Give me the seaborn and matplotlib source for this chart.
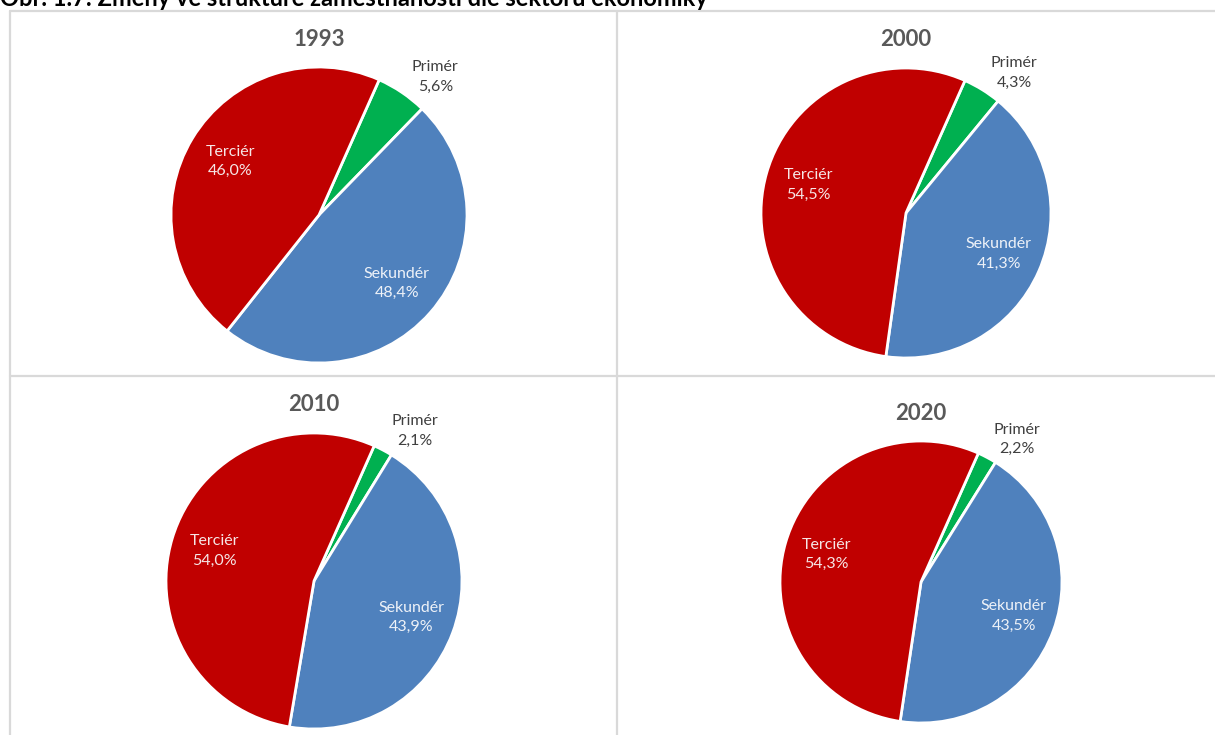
import matplotlib.pyplot as plt
import numpy as np
import seaborn as sns
from matplotlib.lines import Line2D


years = ["1993", "2000", "2010", "2020"]
sectors = ["Primér", "Sekundér", "Terciér"]
primer = [5.6, 4.3, 2.1, 2.2]
sekunder = [48.4, 41.3, 43.9, 43.5]
tercier = [46.0, 54.5, 54.0, 54.3]

title = "Obr. 1.7: Změny ve struktuře zaměstnanosti dle sektorů ekonomiky"

SECTOR_COLORS = ["#00B050", "#4F81BD", "#C00000"]
LABEL_COLORS = ["#404040", "#EEF2F8", "#F6E6E6"]
GRID_COLOR = "#D9D9D9"

W, H = 1215, 735
# pie centre x, centre y, radius x, radius y (pixels, from top left)
PANELS = [(319, 215, 148, 148), (906, 213, 145, 145), (314, 581, 148, 148), (921, 582, 141, 141)]


def px_rect(cx, cy, rx, ry):
    return [(cx - rx) / W, 1 - (cy + ry) / H, 2 * rx / W, 2 * ry / H]


def fmt(value):
    return f"{value:.1f}".replace(".", ",") + "%"


sns.set_style("white")
plt.rcParams["font.family"] = ["Lato", "DejaVu Sans"]

fig = plt.figure(figsize=(W / 100, H / 100), dpi=100)

# panel borders
for x0, y0, x1, y1 in [(10, 11, W, 11), (10, 11, 10, H), (617, 11, 617, H), (10, 376, W, 376)]:
    fig.add_artist(Line2D([x0 / W, x1 / W], [1 - y0 / H, 1 - y1 / H],
                          transform=fig.transFigure, color=GRID_COLOR, lw=1.6))

# the figure caption sits partly above the top edge, as in the source image
fig.text(0, 1 - 6 / H, title, fontsize=17, fontweight="bold", color="black",
         ha="left", va="baseline")

for i, year in enumerate(years):
    cx, cy, rx, ry = PANELS[i]
    ax = fig.add_axes(px_rect(cx, cy, rx, ry))
    values = [primer[i], sekunder[i], tercier[i]]
    wedges, _ = ax.pie(values, colors=SECTOR_COLORS, startangle=66, counterclock=False,
                       wedgeprops=dict(edgecolor="white", linewidth=2))
    ax.set_xlim(-1, 1)
    ax.set_ylim(-1, 1)
    ax.set_aspect("auto")
    ax.axis("off")

    for j, (wedge, name, val) in enumerate(zip(wedges, sectors, values)):
        mid = np.deg2rad((wedge.theta1 + wedge.theta2) / 2)
        if j == 0:
            mid -= np.deg2rad(6)
            dist = 1.22
        else:
            dist = 0.7
        ax.text(dist * np.cos(mid), dist * np.sin(mid), f"{name}\n{fmt(val)}",
                ha="center", va="center", fontsize=11.5, color=LABEL_COLORS[j],
                linespacing=1.5)

    fig.text(cx / W, 1 - (cy - ry - 28) / H, year, fontsize=16, fontweight="bold",
             color="#595959", ha="center", va="center")

fig.savefig("out.png", dpi=100)
plt.close(fig)
